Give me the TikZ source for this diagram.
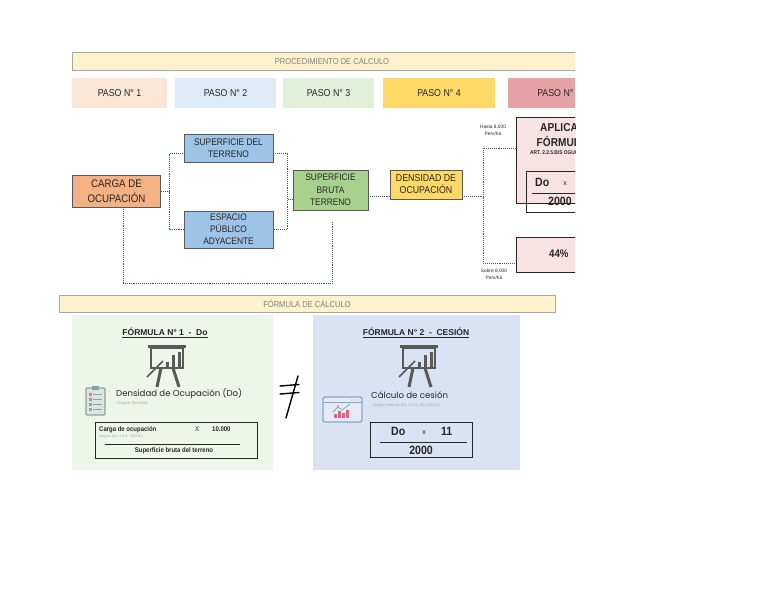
\documentclass[tikz,border=0pt]{standalone}
\usepackage{fontspec}
\setmainfont{Liberation Sans}
\newfontfamily\nar{Liberation Sans}[FakeStretch=0.88]
\newfontfamily\pop{Poppins}
\usetikzlibrary{calc}
\definecolor{hdrfill}{HTML}{FFF2CC}
\definecolor{hdrline}{HTML}{A6A6A6}
\definecolor{hdrtxt}{HTML}{7F7F7F}
\definecolor{pa}{HTML}{FBE5D6}
\definecolor{pb}{HTML}{DEEBF7}
\definecolor{pc}{HTML}{E2F0D9}
\definecolor{pd}{HTML}{FFD966}
\definecolor{pe}{HTML}{E6A3A5}
\definecolor{orangebox}{HTML}{F4B183}
\definecolor{bluebox}{HTML}{9DC3E6}
\definecolor{greenbox}{HTML}{A9D18E}
\definecolor{pinkbox}{HTML}{F9E2E4}
\definecolor{boxline}{HTML}{595959}
\definecolor{txt}{HTML}{262626}
\definecolor{conncol}{HTML}{44546A}
\definecolor{gpanel}{HTML}{EEF5E9}
\definecolor{bpanel}{HTML}{DAE3F3}
\definecolor{icon}{HTML}{595959}
\definecolor{tinygray}{HTML}{A6A6A6}
\definecolor{clipc}{HTML}{8AA3A1}
\definecolor{clipf}{HTML}{DDE5E2}
\definecolor{brwline}{HTML}{8BA5C9}
\definecolor{brwfill}{HTML}{E4EBF6}
\definecolor{barpink}{HTML}{E0648A}
\definecolor{linegreen}{HTML}{7FB3A0}
\newcommand\presicon[2]{%
\begin{scope}[shift={(#1,#2)}, draw=icon, fill=icon]
  \draw[line width=3pt] (-19,1.5) -- (19,1.5);
  \draw[line width=1.5pt] (-16,3) rectangle (16,23);
  \fill (-1.5,17) rectangle (1.5,23);
  \fill (4.5,10) rectangle (7.5,23);
  \fill (10.5,7) rectangle (13.5,23);
  \draw[line width=1.5pt] (-20,32) -- (-4,16);
  \draw[line width=3pt] (-6,23) -- (-10,42);
  \draw[line width=3pt] (6,23) -- (12,42);
\end{scope}}
\tikzset{
  hdr/.style={draw=hdrline, fill=hdrfill, line width=0.8pt, inner sep=0pt, text=hdrtxt, font=\nar\fontsize{8.6}{9}\selectfont},
  paso/.style={inner sep=0pt, minimum height=30pt, text=txt, font=\nar\fontsize{10}{11}\selectfont},
  flow/.style={draw=boxline, line width=0.8pt, inner sep=0pt, align=center, text=txt},
  conn/.style={densely dotted, line width=0.9pt, draw=conncol},
  panel/.style={inner sep=0pt, minimum height=155pt},
  tiny/.style={inner sep=0pt, text=tinygray, font=\fontsize{4.3}{5}\selectfont},
  lbl/.style={inner sep=0pt, align=center, text=txt, font=\fontsize{4.8}{6.5}\selectfont},
  fbox/.style={draw=txt, line width=0.8pt, inner sep=0pt},
  big/.style={inner sep=0pt, text=txt, font=\nar\bfseries\fontsize{12}{13}\selectfont},
}
\begin{document}
\begin{tikzpicture}[x=1pt,y=-1pt]
\useasboundingbox (0,0) rectangle (768,594);
\fill[white] (0,0) rectangle (768,594);
\begin{scope}
\clip (0,0) rectangle (575,594);
% header 1
\node[hdr, minimum width=520pt, minimum height=18pt] (h1) at (332,61) {PROCEDIMIENTO DE CÁLCULO};
% pasos
\node[paso, fill=pa, minimum width=95pt] (p1) at (119.5,93) {PASO N° 1};
\node[paso, fill=pb, minimum width=101pt] (p2) at (225.5,93) {PASO N° 2};
\node[paso, fill=pc, minimum width=91pt] (p3) at (328.5,93) {PASO N° 3};
\node[paso, fill=pd, minimum width=112pt] (p4) at (439,93) {PASO N° 4};
\node[paso, fill=pe, minimum width=102pt] (p5) at (559,93) {PASO N° 5};
% flow boxes
\node[flow, fill=orangebox, minimum width=88pt, minimum height=32pt, font=\nar\fontsize{11}{15}\selectfont] (carga) at (116.5,191) {CARGA DE\\OCUPACIÓN};
\node[flow, fill=bluebox, minimum width=89pt, minimum height=28pt, font=\nar\fontsize{9.5}{12}\selectfont] (sdt) at (228.5,148) {SUPERFICIE DEL\\TERRENO};
\node[flow, fill=bluebox, minimum width=89pt, minimum height=37pt, font=\nar\fontsize{9.5}{12}\selectfont] (ep) at (228.5,229.5) {ESPACIO\\PÚBLICO\\ADYACENTE};
\node[flow, fill=greenbox, minimum width=75pt, minimum height=40pt, font=\nar\fontsize{9.5}{12.5}\selectfont] (sbt) at (330.5,190) {SUPERFICIE\\BRUTA\\TERRENO};
\node[flow, fill=pd, minimum width=72pt, minimum height=29pt, font=\nar\fontsize{10}{12}\selectfont] (dens) at (426,184.5) {DENSIDAD DE\\OCUPACIÓN};
% right boxes
\node[flow, fill=pinkbox, draw=txt, minimum width=134pt, minimum height=86pt] (aplica) at (583,160) {};
\node[big, anchor=west, font=\nar\bfseries\fontsize{11.5}{12}\selectfont] (ap1) at (540,128) {APLICA};
\node[big, anchor=west, font=\nar\bfseries\fontsize{11.5}{12}\selectfont] (ap2) at (536.5,141) {FÓRMULA};
\node[big, anchor=west, font=\nar\bfseries\fontsize{5.5}{6}\selectfont] (ap3) at (530,153) {ART. 2.2.5.BIS OGUC};
\node[fbox, minimum width=124pt, minimum height=41pt] (frm) at (588,191.5) {};
\draw[txt, line width=0.8pt] (532,193) -- (650,193);
\node[big, anchor=west] (do1) at (535,182) {Do};
\node[inner sep=0pt, text=txt, font=\fontsize{7}{8}\selectfont] (x1) at (565,184) {x};
\node[big, anchor=west] (dd1) at (548,201.5) {2000};
\node[flow, fill=pinkbox, draw=txt, minimum width=134pt, minimum height=35pt] (pct) at (583,254.5) {};
\node[big, anchor=west, font=\nar\bfseries\fontsize{11}{12}\selectfont] (pcttxt) at (549,254) {44\%};
\end{scope}
\node[lbl] (hasta) at (493,130.5) {Hasta 8.000\\Pers/há};
\node[lbl] (sobre) at (494,274.5) {Sobre 8.000\\Pers/há};
% connectors
\draw[conn] (carga.east) -- ++(9,0) |- ([yshift=-5pt]sdt.west);
\draw[conn] (carga.east) -- ++(9,0) |- (ep.west);
\draw[conn] ([yshift=-5pt]sdt.east) -- ++(14,0) |- (ep.east);
\draw[conn] ([yshift=-5pt]sdt.east) -- ++(14,0) |- ([yshift=-9pt]sbt.west);
\draw[conn, shorten >=12pt] ([xshift=6.5pt]carga.south) -- ++(0,76) -| ([xshift=1.5pt]sbt.south);
\draw[conn] ([yshift=-6.5pt]sbt.east) -- ([yshift=-12pt]dens.west);
\draw[conn] ([yshift=-12pt]dens.east) -- ++(21,0) |- ([yshift=12pt]aplica.west);
\draw[conn] ([yshift=-12pt]dens.east) -- ++(21,0) |- ([yshift=-8.5pt]pct.west);
% header 2
\node[hdr, minimum width=496pt, minimum height=17pt] (h2) at (307,303.5) {FÓRMULA DE CÁLCULO};
% panels
\node[panel, fill=gpanel, minimum width=201pt] (gp) at (172.5,392.5) {};
\node[panel, fill=bpanel, minimum width=207pt] (bp) at (416.5,392.5) {};
% panel 1
\node[inner sep=0pt, text=txt, font=\bfseries\fontsize{8.5}{10}\selectfont] (t1) at (165,333) {\underline{FÓRMULA N° 1\ \ -\ \ Do}};
\presicon{167}{345}
\begin{scope}
  \draw[clipc, fill=clipf, line width=1.2pt, rounded corners=1pt] (86,388) rectangle (105,415);
  \fill[clipc] (92,385.5) rectangle (99,390);
  \foreach \yy/\cc in {394/barpink,399/barpink,404/clipc,409/clipc}{
    \draw[clipc, line width=0.5pt] (89,\yy-1) rectangle (91,\yy+1);
    \draw[\cc, line width=0.7pt] (89.3,\yy) -- (90,\yy+0.8) -- (91.2,\yy-1.2);
    \draw[clipc, line width=0.8pt] (93,\yy) -- (102,\yy);
  }
\end{scope}
\node[anchor=west, inner sep=0pt, text=txt, font=\pop\fontsize{8.6}{10}\selectfont] (dtxt) at (116,394) {Densidad de Ocupación (Do)};
\node[tiny, anchor=west] (dsub) at (117,403.5) {(según fórmula)};
\node[fbox, minimum width=162pt, minimum height=36pt] (f1) at (176,440) {};
\node[anchor=west, inner sep=0pt, text=txt, font=\nar\bfseries\fontsize{6.8}{8}\selectfont] (f1a) at (99,429.5) {Carga de ocupación};
\node[anchor=west, inner sep=0pt, text=txt, font=\nar\fontsize{7}{8}\selectfont] (f1x) at (195,429.5) {X};
\node[anchor=west, inner sep=0pt, text=txt, font=\nar\bfseries\fontsize{6.8}{8}\selectfont] (f1b) at (212,429.5) {10.000};
\node[tiny, anchor=west, font=\fontsize{3.8}{4}\selectfont] (f1c) at (99,436) {(según Art. 4.2.4. OGUC)};
\draw[txt, line width=0.6pt] (105,444.5) -- (240,444.5);
\node[inner sep=0pt, text=txt, font=\nar\bfseries\fontsize{6.8}{8}\selectfont] (f1d) at (174,451) {Superficie bruta del terreno};
% not-equal
\draw[black, line width=1.4pt, line cap=round] (280,386) -- (299,384.5);
\draw[black, line width=1.4pt, line cap=round] (280,394) -- (299,392.5);
\draw[black, line width=1.4pt, line cap=round] (298,376) -- (286,418);
% panel 2
\node[inner sep=0pt, text=txt, font=\bfseries\fontsize{8.5}{10}\selectfont] (t2) at (416,333) {\underline{FÓRMULA N° 2\ \ -\ \ CESIÓN}};
\presicon{419}{345}
\begin{scope}
  \draw[brwline, fill=brwfill, line width=1.4pt, rounded corners=2pt] (323,397) rectangle (362,422);
  \draw[brwline, line width=1pt] (323,402.5) -- (362,402.5);
  \foreach \xx in {351,354.5,358}{\fill[brwline] (\xx,400) circle (0.7);}
  \fill[barpink] (334,414) rectangle (336.5,418);
  \fill[barpink] (338,411) rectangle (340.5,418);
  \fill[barpink] (342,413) rectangle (344.5,418);
  \fill[barpink] (346,410) rectangle (348.5,418);
  \draw[linegreen, line width=0.8pt] (333,412) -- (338,407) -- (342,410) -- (350,404);
  \fill[barpink] (338,406) circle (0.9);
\end{scope}
\node[anchor=west, inner sep=0pt, text=txt, font=\pop\fontsize{8.6}{10}\selectfont] (ctxt) at (371,395) {Cálculo de cesión};
\node[tiny, anchor=west, font=\fontsize{4}{5}\selectfont] (csub) at (373,405) {(según fórmula Art. 2.2.5. Bis OGUC)};
\node[fbox, minimum width=102pt, minimum height=35pt] (f2) at (421,439.5) {};
\node[big, anchor=west] (do2) at (391,431.5) {Do};
\node[inner sep=0pt, text=txt, font=\fontsize{7}{8}\selectfont] (x2) at (424,433) {x};
\node[big, anchor=west] (el2) at (441,431.5) {11};
\draw[txt, line width=0.8pt] (380,442) -- (467,442);
\node[big] (dd2) at (421,450.5) {2000};
\end{tikzpicture}
\end{document}
